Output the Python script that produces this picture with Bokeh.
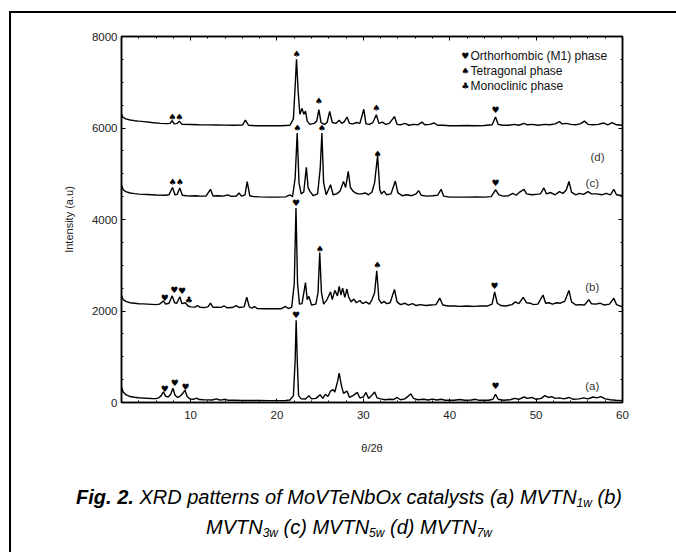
from bokeh.plotting import figure
from bokeh.models import LinearAxis, Range1d, SingleIntervalTicker, Div
from bokeh.layouts import column
from bokeh.core.properties import value
from bokeh.embed import file_html
from bokeh.resources import INLINE

# ---------------- data (2theta, intensity) ----------------
xrd_a = [(2.0, 340), (2.2, 230), (2.5, 170), (3.0, 130), (3.5, 115), (4.0, 105), (4.5, 98), (5.0, 92),
         (5.5, 88), (6.0, 85), (6.3, 100), (6.6, 150), (6.85, 235), (7.1, 140), (7.4, 120), (7.7, 180),
         (7.95, 310), (8.2, 160), (8.5, 110), (8.8, 140), (9.1, 200), (9.35, 270), (9.6, 130), (9.9, 80),
         (10.3, 70), (10.7, 95), (11.0, 65), (11.5, 60), (12.0, 58), (12.5, 55), (13.0, 80), (13.3, 55),
         (13.7, 60), (14.0, 70), (14.3, 50), (15.0, 48), (16.0, 45), (17.0, 44), (18.0, 43), (19.0, 42),
         (20.0, 42), (21.0, 45), (21.5, 55), (21.9, 150), (22.1, 900), (22.22, 1800), (22.35, 900),
         (22.5, 150), (22.8, 80), (23.3, 75), (23.7, 150), (24.0, 80), (24.5, 90), (25.0, 170), (25.3, 90),
         (25.6, 180), (25.9, 130), (26.2, 250), (26.5, 280), (26.7, 230), (27.0, 450), (27.2, 640),
         (27.45, 380), (27.7, 200), (28.1, 250), (28.4, 110), (28.8, 150), (29.3, 220), (29.6, 100),
         (30.0, 120), (30.3, 220), (30.6, 90), (30.9, 140), (31.3, 230), (31.6, 100), (32.0, 80),
         (32.5, 60), (33.0, 70), (33.5, 65), (33.9, 110), (34.3, 60), (34.8, 80), (35.2, 140), (35.5, 190),
         (35.8, 90), (36.3, 60), (37.0, 70), (37.5, 55), (38.0, 75), (38.5, 55), (39.0, 70), (39.5, 50),
         (40.5, 48), (41.2, 65), (41.7, 48), (42.5, 55), (43.0, 70), (43.4, 48), (44.5, 50), (45.0, 70),
         (45.3, 180), (45.6, 70), (46.2, 50), (47.0, 60), (47.5, 90), (48.0, 70), (48.6, 120), (49.0, 90),
         (49.5, 110), (50.0, 70), (50.6, 90), (51.0, 150), (51.4, 110), (51.8, 130), (52.2, 90),
         (52.7, 100), (53.2, 80), (53.8, 110), (54.3, 70), (55.0, 80), (55.5, 100), (56.0, 80),
         (56.6, 120), (57.0, 100), (57.5, 130), (58.0, 80), (58.6, 60), (59.2, 50), (60.0, 40)]

xrd_b = [(2.0, 2330), (2.2, 2250), (2.5, 2210), (3.0, 2180), (3.5, 2170), (4.0, 2160), (4.5, 2155),
         (5.0, 2150), (5.5, 2145), (6.0, 2140), (6.4, 2150), (6.85, 2220), (7.1, 2150), (7.5, 2170),
         (7.87, 2330), (8.15, 2180), (8.4, 2170), (8.75, 2310), (9.0, 2160), (9.4, 2180), (9.7, 2110),
         (10.0, 2090), (10.5, 2085), (10.8, 2120), (11.1, 2080), (11.6, 2075), (12.0, 2090), (12.3, 2170),
         (12.6, 2080), (13.0, 2085), (13.5, 2080), (13.9, 2110), (14.2, 2070), (14.8, 2075), (15.3, 2120),
         (15.6, 2075), (16.2, 2090), (16.5, 2300), (16.8, 2090), (17.1, 2060), (17.4, 2100), (17.7, 2055),
         (18.5, 2050), (19.5, 2050), (20.5, 2050), (21.0, 2100), (21.3, 2055), (21.7, 2080), (22.0, 2600),
         (22.2, 4250), (22.38, 2600), (22.6, 2150), (22.9, 2160), (23.3, 2620), (23.5, 2250), (23.7, 2320),
         (24.0, 2130), (24.5, 2150), (24.75, 2400), (24.95, 3280), (25.15, 2400), (25.4, 2150),
         (25.8, 2250), (26.2, 2420), (26.4, 2250), (26.7, 2450), (27.0, 2330), (27.2, 2540), (27.4, 2350),
         (27.6, 2500), (27.85, 2300), (28.1, 2480), (28.3, 2300), (28.6, 2200), (28.9, 2260), (29.2, 2180),
         (29.6, 2230), (29.9, 2160), (30.3, 2200), (30.7, 2150), (31.0, 2250), (31.3, 2400), (31.55, 2880),
         (31.8, 2250), (32.1, 2170), (32.4, 2210), (32.7, 2160), (33.1, 2180), (33.6, 2470), (33.9, 2200),
         (34.3, 2140), (34.8, 2170), (35.2, 2130), (35.7, 2160), (36.1, 2120), (36.6, 2140), (37.2, 2120),
         (37.8, 2130), (38.4, 2140), (38.85, 2280), (39.2, 2130), (39.8, 2110), (40.5, 2110), (41.2, 2100),
         (42.0, 2110), (42.8, 2100), (43.6, 2110), (44.4, 2110), (44.9, 2150), (45.2, 2420), (45.5, 2170),
         (45.9, 2120), (46.5, 2110), (47.2, 2140), (47.6, 2200), (48.0, 2160), (48.5, 2300), (48.9, 2180),
         (49.3, 2170), (49.7, 2140), (50.2, 2150), (50.8, 2350), (51.1, 2170), (51.5, 2180), (51.9, 2150),
         (52.4, 2180), (52.8, 2170), (53.3, 2210), (53.8, 2450), (54.1, 2200), (54.6, 2130), (55.1, 2140),
         (55.6, 2130), (56.1, 2250), (56.4, 2160), (56.9, 2150), (57.4, 2170), (57.9, 2130), (58.5, 2150),
         (59.0, 2280), (59.3, 2140), (60.0, 2090)]

xrd_c = [(2.0, 4740), (2.2, 4650), (2.5, 4610), (3.0, 4580), (3.5, 4565), (4.0, 4555), (5.0, 4545),
         (6.0, 4535), (7.0, 4530), (7.5, 4540), (7.9, 4700), (8.2, 4540), (8.45, 4550), (8.75, 4690),
         (9.05, 4530), (9.5, 4520), (10.0, 4515), (10.6, 4520), (11.2, 4510), (11.8, 4515), (12.3, 4660),
         (12.6, 4515), (13.2, 4520), (13.8, 4510), (14.3, 4540), (14.7, 4505), (15.3, 4515), (15.6, 4580),
         (15.9, 4510), (16.3, 4540), (16.55, 4830), (16.85, 4520), (17.3, 4500), (18.0, 4495), (19.0, 4490),
         (20.0, 4490), (21.0, 4495), (21.5, 4540), (21.8, 4500), (22.1, 4900), (22.34, 5890), (22.55, 4800),
         (22.8, 4560), (23.1, 4600), (23.4, 5140), (23.6, 4700), (23.8, 4620), (24.2, 4520), (24.7, 4560),
         (25.0, 5100), (25.2, 5890), (25.4, 4800), (25.7, 4540), (26.2, 4760), (26.5, 4540), (26.9, 4560),
         (27.3, 4620), (27.7, 4830), (27.95, 4700), (28.25, 5050), (28.5, 4700), (28.8, 4620), (29.1, 4580),
         (29.4, 4560), (29.8, 4560), (30.2, 4580), (30.6, 4540), (31.0, 4600), (31.3, 4800), (31.65, 5400),
         (31.9, 4650), (32.1, 4560), (32.4, 4620), (32.7, 4540), (33.2, 4560), (33.7, 4840), (34.0, 4580),
         (34.5, 4520), (35.0, 4540), (35.6, 4520), (36.1, 4560), (36.4, 4630), (36.7, 4530), (37.3, 4510),
         (38.0, 4520), (38.6, 4530), (39.0, 4660), (39.3, 4510), (40.0, 4490), (41.0, 4490), (42.0, 4490),
         (43.0, 4495), (44.0, 4490), (44.8, 4500), (45.3, 4650), (45.7, 4540), (46.2, 4510), (46.8, 4520),
         (47.3, 4570), (47.7, 4530), (48.1, 4600), (48.6, 4660), (48.9, 4560), (49.5, 4540), (50.0, 4550),
         (50.5, 4560), (50.9, 4690), (51.2, 4560), (51.7, 4590), (52.2, 4540), (52.7, 4610), (53.1, 4570),
         (53.5, 4650), (53.8, 4830), (54.1, 4600), (54.6, 4540), (55.0, 4570), (55.5, 4550), (56.0, 4610),
         (56.4, 4560), (57.0, 4560), (57.6, 4540), (58.1, 4570), (58.6, 4540), (59.0, 4660), (59.3, 4540),
         (60.0, 4520)]

xrd_d = [(2.0, 6300), (2.2, 6230), (2.5, 6200), (3.0, 6175), (3.5, 6160), (4.0, 6150), (4.6, 6140),
         (5.5, 6120), (6.5, 6100), (7.3, 6095), (7.6, 6100), (7.87, 6160), (8.1, 6090), (8.4, 6095),
         (8.7, 6150), (9.0, 6080), (10.0, 6075), (11.0, 6070), (12.0, 6068), (13.0, 6065), (14.0, 6062),
         (15.0, 6060), (16.0, 6065), (16.35, 6170), (16.7, 6060), (17.5, 6050), (18.5, 6048), (19.5, 6048),
         (20.5, 6050), (21.5, 6060), (21.9, 6200), (22.1, 6900), (22.26, 7500), (22.45, 6800), (22.65, 6300),
         (22.9, 6430), (23.1, 6300), (23.3, 6370), (23.5, 6150), (23.8, 6080), (24.3, 6100), (24.6, 6150),
         (24.85, 6400), (25.1, 6120), (25.5, 6080), (25.8, 6120), (26.1, 6360), (26.4, 6120), (26.8, 6100),
         (27.2, 6170), (27.5, 6100), (27.8, 6140), (28.1, 6240), (28.4, 6100), (28.8, 6090), (29.2, 6120),
         (29.6, 6100), (30.05, 6410), (30.3, 6090), (30.7, 6080), (31.1, 6120), (31.5, 6290), (31.8, 6100),
         (32.2, 6130), (32.6, 6080), (33.0, 6100), (33.6, 6250), (33.9, 6080), (34.3, 6070), (34.8, 6100),
         (35.3, 6060), (35.8, 6080), (36.3, 6070), (36.8, 6130), (37.1, 6070), (37.7, 6080), (38.2, 6110),
         (38.6, 6060), (39.2, 6060), (40.0, 6050), (41.0, 6050), (42.0, 6055), (43.0, 6050), (44.0, 6055),
         (44.9, 6070), (45.3, 6240), (45.6, 6080), (46.1, 6060), (46.8, 6060), (47.5, 6080), (48.0, 6060),
         (48.6, 6100), (49.0, 6070), (49.6, 6080), (50.2, 6060), (51.0, 6080), (51.6, 6070), (52.2, 6090),
         (52.7, 6140), (53.0, 6090), (53.5, 6100), (54.0, 6080), (54.6, 6070), (55.1, 6090), (55.6, 6150),
         (56.0, 6080), (56.6, 6070), (57.2, 6080), (57.8, 6110), (58.3, 6070), (58.8, 6120), (59.3, 6070),
         (60.0, 6060)]

# phase markers: (2theta, intensity)
heart_marks = [(7.0, 300), (8.17, 420), (9.4, 335), (22.22, 1920), (45.3, 370),
               (7.0, 2275), (8.1, 2455), (9.0, 2440), (22.2, 4360), (45.2, 2550),
               (45.3, 4790), (45.3, 6390)]
spade_marks = [(24.95, 3350), (31.6, 3000),
               (7.9, 4830), (8.75, 4830), (22.34, 6000), (25.2, 6000), (31.65, 5440),
               (7.87, 6240), (8.7, 6240), (22.26, 7620), (24.85, 6580), (31.5, 6440)]
club_marks = [(9.8, 2250)]

series_labels = ["(a)", "(b)", "(c)", "(d)"]
series_label_pos = [(56.5, 350), (56.5, 2514), (56.5, 4793), (57.1, 5370)]

legend_symbols = ["\u2665", "\u2660", "\u2663"]
legend_texts = ["Orthorhombic (M1) phase", "Tetragonal phase", "Monoclinic phase"]
legend_y = [7583, 7239, 6910]

x_ticks_major = 10
y_ticks_major = 2000

FONT = "Liberation Sans"
SYM_FONT = "DejaVu Sans"

p = figure(width=655, height=468, x_range=Range1d(2, 60), y_range=Range1d(0, 8000),
           output_backend="svg", toolbar_location=None,
           min_border_left=110, min_border_right=44, min_border_top=23, min_border_bottom=79,
           x_axis_label="\u03b8/2\u03b8", y_axis_label="Intensity (a.u)")
p.background_fill_color = "white"
p.border_fill_color = "white"
p.outline_line_color = "black"
p.outline_line_width = 1.5
p.xgrid.visible = False
p.ygrid.visible = False

p.add_layout(LinearAxis(), "above")
p.add_layout(LinearAxis(), "right")

for ax in p.xaxis:
    ax.ticker = SingleIntervalTicker(interval=x_ticks_major, num_minor_ticks=5)
for ax in p.yaxis:
    ax.ticker = SingleIntervalTicker(interval=y_ticks_major, num_minor_ticks=4)

for ax in p.xaxis + p.yaxis:
    ax.axis_line_color = "black"
    ax.axis_line_width = 1.5
    ax.major_tick_in = 4
    ax.major_tick_out = 0
    ax.minor_tick_in = 2
    ax.minor_tick_out = 0
    ax.major_tick_line_color = "black"
    ax.minor_tick_line_color = "black"
    ax.major_label_text_font = FONT
    ax.major_label_text_font_size = "11.5px"
    ax.major_label_text_color = "#222222"
    ax.axis_label_text_font = FONT
    ax.axis_label_text_font_style = "normal"
    ax.axis_label_text_color = "#222222"
    ax.axis_label_text_font_size = "11px"

p.below[0].major_label_standoff = 8
p.below[0].axis_label_standoff = 20
p.left[0].major_label_standoff = 4
p.left[0].axis_label_standoff = 14
for ax in (p.above[0], p.right[0]):
    ax.major_label_text_color = None
    ax.major_label_standoff = 0

for pattern in (xrd_a, xrd_b, xrd_c, xrd_d):
    xs = [pt[0] for pt in pattern]
    ys = [pt[1] for pt in pattern]
    p.line(xs, ys, line_color="black", line_width=1.4)

for marks, sym in ((heart_marks, "\u2665"), (spade_marks, "\u2660"), (club_marks, "\u2663")):
    p.text(x=[m[0] for m in marks], y=[m[1] for m in marks], text=[sym] * len(marks),
           text_font=value(SYM_FONT), text_font_size="9px", text_align="center",
           text_baseline="middle", text_color="black")

p.text(x=[pt[0] for pt in series_label_pos], y=[pt[1] for pt in series_label_pos], text=series_labels,
       text_font=value(FONT), text_font_size="11.5px", text_align="center", text_baseline="middle",
       text_color="#333333")

p.text(x=[41.8] * 3, y=legend_y, text=legend_symbols, text_font=value(SYM_FONT), text_font_size="9px",
       text_align="center", text_baseline="middle", text_color="black")
p.text(x=[42.4] * 3, y=legend_y, text=legend_texts, text_font=value(FONT), text_font_size="12px",
       text_align="left", text_baseline="middle", text_color="#111111")

sub = '<sub style="font-size:12px;vertical-align:-3px;line-height:0">{}</sub>'
caption_html = (
    '<div style="font-family:\'Liberation Sans\',Arial,sans-serif;font-size:20px;font-style:italic;'
    'line-height:30px;text-align:center;white-space:nowrap;color:#000;width:655px;'
    'box-sizing:border-box;padding-left:11px;margin:-4px 0 0 0">'
    '<b>Fig. 2.</b> XRD patterns of MoVTeNbOx catalysts (a) MVTN' + sub.format("1w") + ' (b)<br>'
    'MVTN' + sub.format("3w") + ' (c) MVTN' + sub.format("5w") + ' (d) MVTN' + sub.format("7w") +
    '</div>'
)
cap = Div(text=caption_html, width=655, height=66)

layout = column(p, cap, margin=(11, 0, 0, 9), spacing=0,
                styles={"border-left": "2px solid black", "border-top": "2px solid black"})

open("out.html", "w").write(file_html(layout, INLINE))
